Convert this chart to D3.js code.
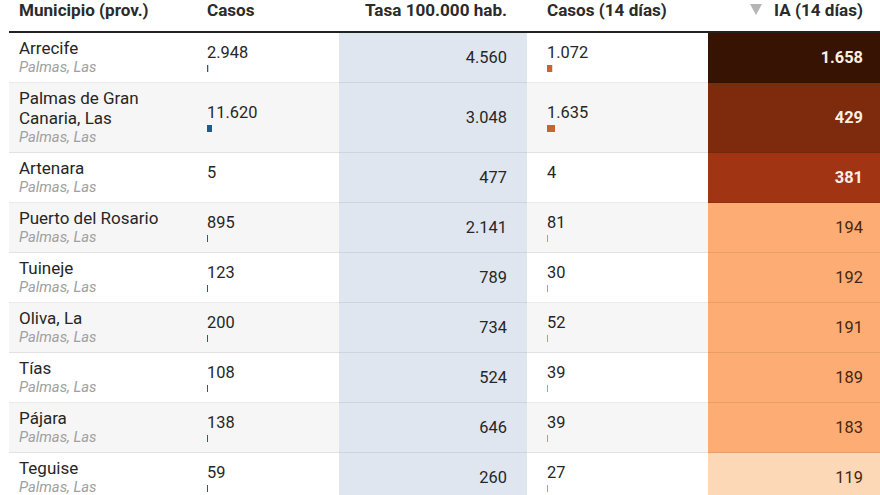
<!DOCTYPE html>
<html>
<head>
<meta charset="utf-8">
<script src="https://cdn.jsdelivr.net/npm/d3@7"></script>
<style>
  html, body { margin: 0; padding: 0; background: #fff; overflow: hidden; }
  svg { display: block; font-family: Roboto, sans-serif; }
  .head { font-size: 17.1px; font-weight: 700; fill: #2b2b2b; }
  .name { font-size: 17px; fill: #262626; }
  .prov { font-size: 14.8px; font-style: italic; fill: #a0a0a0; }
  .num { font-size: 16.4px; fill: #262626; }
</style>
</head>
<body>
<svg width="880" height="495"></svg>
<script>
const municipios = [['Arrecife'], ['Palmas de Gran', 'Canaria, Las'], ['Artenara'], ['Puerto del Rosario'],
    ['Tuineje'], ['Oliva, La'], ['Tías'], ['Pájara'], ['Teguise']];
const provincias = ['Palmas, Las', 'Palmas, Las', 'Palmas, Las', 'Palmas, Las', 'Palmas, Las',
    'Palmas, Las', 'Palmas, Las', 'Palmas, Las', 'Palmas, Las'];
const casos = [2948, 11620, 5, 895, 123, 200, 108, 138, 59];
const tasa = [4560, 3048, 477, 2141, 789, 734, 524, 646, 260];
const casos14 = [1072, 1635, 4, 81, 30, 52, 39, 39, 27];
const ia14 = [1658, 429, 381, 194, 192, 191, 189, 183, 119];
const headers = ['Municipio (prov.)', 'Casos', 'Tasa 100.000 hab.', 'Casos (14 días)', 'IA (14 días)'];

const iaBreaks = [150, 300, 400, 1000];
const iaColors = ['#fcd8b6', '#fdac73', '#a03413', '#7e2b0d', '#371304'];

const svg = d3.select('svg');
const width = +svg.attr('width');

const margin = { left: 9, top: 33 };
const baseRow = 50;
const lineHeight = 20;

// spanish number format: 1.658
const fmt = d3.formatLocale({ decimal: ',', thousands: '.', grouping: [3], currency: ['', '€'] }).format(',d');

const data = municipios.map((lines, i) => ({
    lines,
    prov: provincias[i],
    casos: casos[i],
    tasa: tasa[i],
    casos14: casos14[i],
    ia: ia14[i],
    h: baseRow + (lines.length - 1) * lineHeight
}));
let acc = margin.top;
data.forEach(d => { d.y = acc; acc += d.h; });

const casosScale = d3.scaleLinear().domain([0, d3.max(casos)]).range([0, 5]);
const casos14Scale = d3.scaleLinear().domain([0, d3.max(casos14)]).range([0, 8]);
const iaColor = d3.scaleThreshold().domain(iaBreaks).range(iaColors);

// very small values leave no visible bar
const barWidth = (scale, v) => v < 10 ? 0 : Math.max(1, scale(v));

const col = { name: 19, casos: 207, tasaL: 339, tasaR: 527, casos14: 547, iaL: 708 };

const rows = svg.selectAll('g.row').data(data)
    .enter().append('g')
        .attr('class', 'row')
        .attr('transform', d => `translate(0,${d.y})`);

rows.append('rect')
    .attr('x', margin.left)
    .attr('width', width - margin.left)
    .attr('height', d => d.h)
    .attr('fill', (d, i) => i % 2 ? '#f6f6f7' : '#fff');

rows.append('rect')
    .attr('x', col.tasaL)
    .attr('width', col.tasaR - col.tasaL)
    .attr('height', d => d.h)
    .attr('fill', '#dfe6f0');

rows.append('rect')
    .attr('x', col.iaL)
    .attr('width', width - col.iaL)
    .attr('height', d => d.h)
    .attr('fill', d => iaColor(d.ia));

rows.append('line')
    .attr('x1', margin.left)
    .attr('x2', width)
    .attr('y1', d => d.h - 0.5)
    .attr('y2', d => d.h - 0.5)
    .attr('stroke', '#000')
    .attr('stroke-opacity', 0.08);

// name + province
rows.each(function(d) {
    const g = d3.select(this);
    d.lines.forEach((t, i) => {
        g.append('text').attr('class', 'name')
            .attr('x', col.name)
            .attr('y', 21 + i * lineHeight)
            .text(t);
    });
    g.append('text').attr('class', 'prov')
        .attr('x', col.name)
        .attr('y', 39 + (d.lines.length - 1) * lineHeight)
        .text(d.prov);
});

rows.append('text').attr('class', 'num')
    .attr('x', col.casos)
    .attr('y', d => d.h / 2 - 0.5)
    .text(d => fmt(d.casos));

rows.append('rect')
    .attr('x', col.casos)
    .attr('y', d => d.h / 2 + 7)
    .attr('width', d => barWidth(casosScale, d.casos))
    .attr('height', 7)
    .attr('fill', '#1f5c8e');

rows.append('text').attr('class', 'num')
    .attr('x', col.tasaR - 20)
    .attr('y', d => d.h / 2 + 5)
    .attr('text-anchor', 'end')
    .text(d => fmt(d.tasa));

rows.append('text').attr('class', 'num')
    .attr('x', col.casos14)
    .attr('y', d => d.h / 2 - 0.5)
    .text(d => fmt(d.casos14));

rows.append('rect')
    .attr('x', col.casos14)
    .attr('y', d => d.h / 2 + 7)
    .attr('width', d => barWidth(casos14Scale, d.casos14))
    .attr('height', 7)
    .attr('fill', '#c9632f')
    .attr('fill-opacity', d => d.casos14 < 200 ? 0.7 : 1);

rows.append('text').attr('class', 'num')
    .attr('x', width - 17)
    .attr('y', d => d.h / 2 + 5)
    .attr('text-anchor', 'end')
    .attr('font-weight', d => d.ia > 300 ? 700 : 400)
    .style('fill', d => d.ia > 300 ? '#fbeee2' : '#4a2410')
    .text(d => fmt(d.ia));

// header
const headX = [col.name, col.casos, col.tasaR - 20, col.casos14, width - 17];
const headAnchor = ['start', 'start', 'end', 'start', 'end'];
svg.selectAll('text.head').data(headers)
    .enter().append('text')
        .attr('class', 'head')
        .attr('x', (d, i) => headX[i])
        .attr('y', 16)
        .attr('text-anchor', (d, i) => headAnchor[i])
        .text(d => d);

svg.append('path')
    .attr('d', d3.line()([[750, 4], [762, 4], [756, 15]]))
    .attr('fill', '#b5b5b5');

svg.append('line')
    .attr('x1', margin.left)
    .attr('x2', width)
    .attr('y1', 32)
    .attr('y2', 32)
    .attr('stroke', '#222')
    .attr('stroke-width', 2);
</script>
</body>
</html>
